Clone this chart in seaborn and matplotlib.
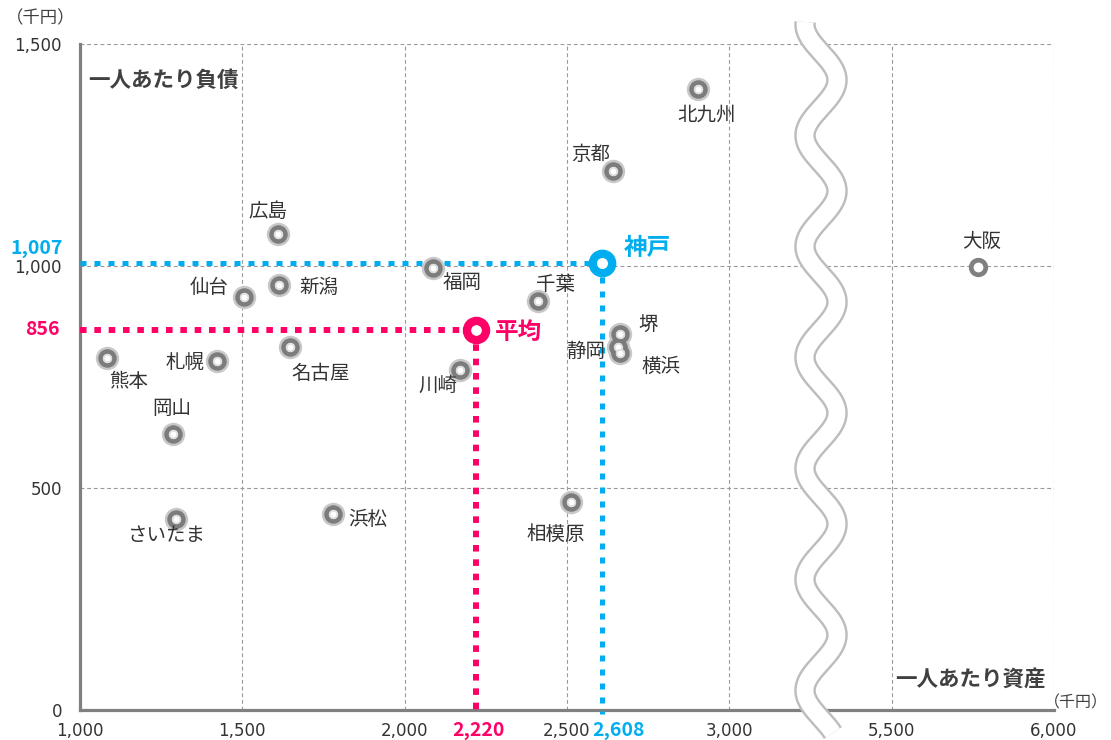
import numpy as np
import pandas as pd
import matplotlib
matplotlib.use("Agg")
import matplotlib.pyplot as plt
import matplotlib.transforms as mtrans
import seaborn as sns

# ---------------- data ----------------
cities = ["北九州", "京都", "広島", "新潟", "仙台", "福岡", "千葉", "堺", "静岡", "横浜",
          "札幌", "熊本", "名古屋", "川崎", "岡山", "さいたま", "浜松", "相模原", "大阪"]
assets = [2904, 2642, 1611, 1614, 1506, 2086, 2410, 2664, 2657, 2664,
          1423, 1083, 1648, 2170, 1287, 1296, 1778, 2512, 5765]
debts = [1399, 1214, 1072, 957, 930, 995, 921, 847, 818, 804,
         786, 793, 818, 766, 622, 430, 441, 468, 998]
kobe_name = "神戸"
kobe_asset, kobe_debt = 2608, 1007
avg_name = "平均"
avg_asset, avg_debt = 2220, 856
x_tick_values = [1000, 1500, 2000, 2500, 3000, 5500, 6000]
y_tick_values = [0, 500, 1000, 1500]
x_title = "一人あたり資産"
y_title = "一人あたり負債"
unit = "（千円）"

# ---------------- layout / style ----------------
BREAK_SHIFT = 2000          # 3000..5500 gap compressed
def tx(v):
    return v - BREAK_SHIFT if v >= 5000 else v

label_offsets = {  # pixels (dx, dy up)
    "北九州": (8, -26), "京都": (-22, 16), "広島": (-10, 23), "新潟": (40, -2),
    "仙台": (-35, 10), "福岡": (30, -14), "千葉": (18, 17), "堺": (28, 9),
    "静岡": (-32, -5), "横浜": (41, -13), "札幌": (-32, -1), "熊本": (22, -24),
    "名古屋": (30, -27), "川崎": (-22, -15), "岡山": (-1, 25), "さいたま": (-9, -16),
    "浜松": (35, -5), "相模原": (-15, -32), "大阪": (4, 25),
}
BLUE = "#00AEEF"
PINK = "#FF0066"
DARK = "#404040"
AXIS = "#808080"

sns.set_style("white")
plt.rcParams["font.family"] = ["Noto Sans CJK JP", "DejaVu Sans"]

W, H = 1111, 740
fig = plt.figure(figsize=(W / 100, H / 100), dpi=100)
ax = fig.add_axes([80 / W, 1 - 710 / H, (1054 - 80) / W, (710 - 44) / H])

df = pd.DataFrame({"city": cities, "asset": assets, "debt": debts})
df["x"] = [tx(v) for v in df["asset"]]
main = df[df["city"] != "大阪"]
osaka = df[df["city"] == "大阪"]

ax.set_xlim(tx(x_tick_values[0]), tx(x_tick_values[-1]))
ax.set_ylim(y_tick_values[0], y_tick_values[-1])

# grid
for v in x_tick_values[1:]:
    ax.axvline(tx(v), color="#9a9a9a", lw=0.8, ls=(0, (3.5, 2.5)), zorder=0)
for v in y_tick_values[1:]:
    ax.axhline(v, color="#9a9a9a", lw=0.8, ls=(0, (3.5, 2.5)), zorder=0)

# reference dotted lines
ax.plot([tx(x_tick_values[0]), tx(kobe_asset)], [kobe_debt, kobe_debt],
        color=BLUE, lw=3.6, ls=(0, (1.2, 1.6)), solid_capstyle="butt", zorder=3)
ax.plot([tx(kobe_asset), tx(kobe_asset)], [kobe_debt, -8],
        color=BLUE, lw=3.6, ls=(0, (1.2, 1.6)), clip_on=False, zorder=3)
ax.plot([tx(x_tick_values[0]), tx(avg_asset)], [avg_debt, avg_debt],
        color=PINK, lw=4.3, ls=(0, (1.1, 1.3)), zorder=3)
ax.plot([tx(avg_asset), tx(avg_asset)], [avg_debt, 0],
        color=PINK, lw=4.3, ls=(0, (1.1, 1.3)), clip_on=False, zorder=3)

# points
sns.scatterplot(data=main, x="x", y="debt", ax=ax, marker="o", s=140,
                color="white", edgecolor="#c8c8c8", linewidth=5.0, zorder=4,
                clip_on=False, legend=False)
sns.scatterplot(data=main, x="x", y="debt", ax=ax, marker="o", s=100,
                color="white", edgecolor="#7c7c7c", linewidth=3.3, zorder=5,
                clip_on=False, legend=False)
sns.scatterplot(data=main, x="x", y="debt", ax=ax, marker="o", s=30,
                color="white", edgecolor="#dcdcdc", linewidth=1.2, zorder=5,
                clip_on=False, legend=False)
sns.scatterplot(data=osaka, x="x", y="debt", ax=ax, marker="o", s=110,
                color="white", edgecolor="#808080", linewidth=3.4, zorder=5,
                legend=False)
sns.scatterplot(x=[tx(kobe_asset)], y=[kobe_debt], ax=ax, marker="o", s=196,
                color="white", edgecolor=BLUE, linewidth=6, zorder=6, legend=False)
sns.scatterplot(x=[tx(avg_asset)], y=[avg_debt], ax=ax, marker="o", s=190,
                color="white", edgecolor=PINK, linewidth=6, zorder=6, legend=False)

for c, xv, yv in zip(df["city"], df["x"], df["debt"]):
    dx, dy = label_offsets[c]
    ax.annotate(c, (xv, yv), xytext=(dx, dy), textcoords="offset pixels",
                ha="center", va="center", fontsize=14, color="#333333", zorder=7)
ax.annotate(kobe_name, (tx(kobe_asset), kobe_debt), xytext=(22, 15),
            textcoords="offset pixels", ha="left", va="center", fontsize=17,
            fontweight="bold", color=BLUE, zorder=7)
ax.annotate(avg_name, (tx(avg_asset), avg_debt), xytext=(19, -2),
            textcoords="offset pixels", ha="left", va="center", fontsize=17,
            fontweight="bold", color=PINK, zorder=7)

# axes styling
ax.set_xticks([tx(v) for v in x_tick_values])
ax.set_xticklabels([f"{v:,}" for v in x_tick_values])
ax.set_yticks(y_tick_values)
ax.set_yticklabels([f"{v:,}" for v in y_tick_values])
ax.set_xlabel("")
ax.set_ylabel("")
ax.tick_params(axis="both", which="both", direction="out", length=4, width=2,
               color=AXIS, labelcolor="#333333", labelsize=12)
for lab in ax.get_xticklabels() + ax.get_yticklabels():
    lab.set_family("DejaVu Sans")
ax.tick_params(axis="x", pad=4.5)
ax.tick_params(axis="y", pad=9)
for s in ["top", "right"]:
    ax.spines[s].set_visible(False)
for s in ["left", "bottom"]:
    ax.spines[s].set_color(AXIS)
    ax.spines[s].set_linewidth(2.3)
    ax.spines[s].set_zorder(2)

# colored value labels on the axes
ytrans = mtrans.blended_transform_factory(ax.transAxes, ax.transData)
xtrans = mtrans.blended_transform_factory(ax.transData, ax.transAxes)
ax.annotate(f"{kobe_debt:,}", (0, kobe_debt), xycoords=ytrans, xytext=(-17, 14),
            textcoords="offset pixels", ha="right", va="center", fontsize=14,
            fontweight="bold", color=BLUE, annotation_clip=False)
ax.annotate(f"{avg_debt:,}", (0, avg_debt), xycoords=ytrans, xytext=(-20, 0),
            textcoords="offset pixels", ha="right", va="center", fontsize=14,
            fontweight="bold", color=PINK, annotation_clip=False)
ax.annotate(f"{avg_asset:,}", (tx(avg_asset), 0), xycoords=xtrans, xytext=(2, -20),
            textcoords="offset pixels", ha="center", va="center", fontsize=14,
            fontweight="bold", color=PINK, annotation_clip=False)
ax.annotate(f"{kobe_asset:,}", (tx(kobe_asset), 0), xycoords=xtrans, xytext=(16, -20),
            textcoords="offset pixels", ha="center", va="center", fontsize=14,
            fontweight="bold", color=BLUE, annotation_clip=False)

# overlay in figure pixels: titles, units, axis break
ov = fig.add_axes([0, 0, 1, 1], zorder=10)
ov.set_xlim(0, W)
ov.set_ylim(H, 0)
ov.axis("off")
ov.patch.set_alpha(0)
ov.text(88, 80, y_title, ha="left", va="center", fontsize=15.5,
        fontweight="bold", color=DARK)
ov.text(1046, 679, x_title, ha="right", va="center", fontsize=15.5,
        fontweight="bold", color=DARK)
ov.text(6, 18, unit, ha="left", va="center", fontsize=12.5, color=DARK)
ov.text(1108, 703, unit, ha="right", va="center", fontsize=11.5, color=DARK)

yy = np.linspace(22, 733, 900)
xx = 821 + 16 * np.cos(2 * np.pi * (yy - 80) / 111)
ov.plot(xx, yy, color="#bdbdbd", lw=15.5, solid_capstyle="butt", solid_joinstyle="round")
ov.plot(xx, yy, color="white", lw=12, solid_capstyle="butt", solid_joinstyle="round")

fig.savefig("out.png", dpi=100)
